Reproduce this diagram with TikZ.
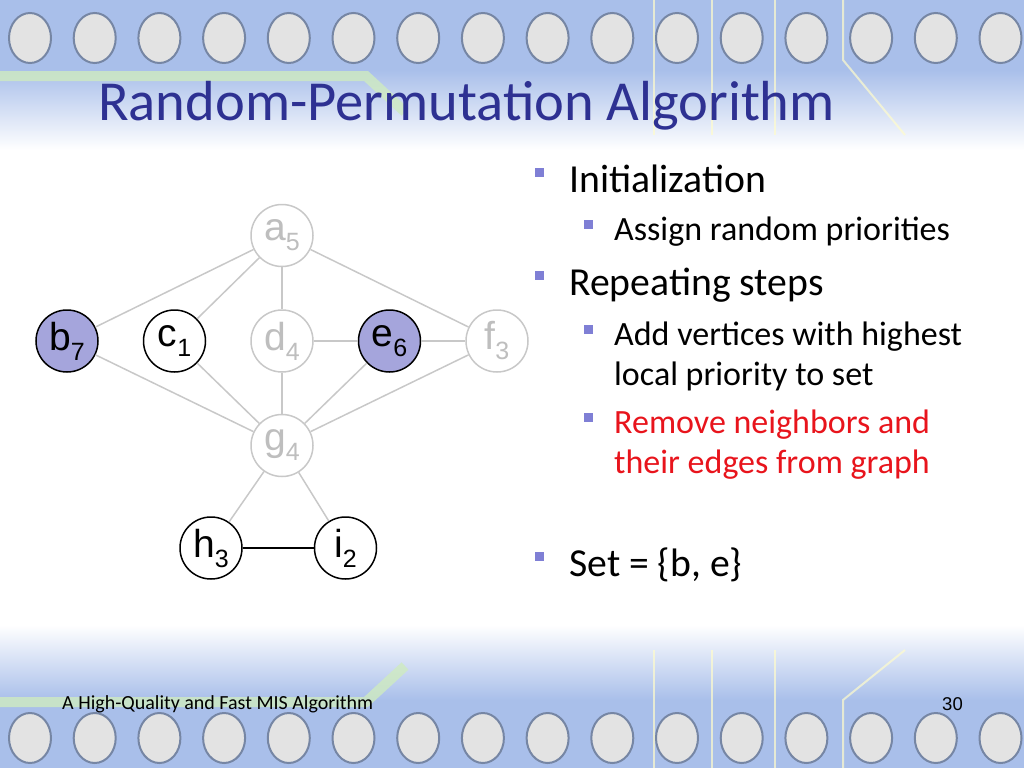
\documentclass[tikz,border=0pt]{standalone}
\usepackage{fontspec}
\setmainfont{Carlito}
\newfontfamily\graphfont{Liberation Sans}
\usetikzlibrary{positioning}
\definecolor{rptitle}{HTML}{2E3192}
\definecolor{rpbullet}{HTML}{7F7FD5}
\definecolor{rpset}{HTML}{A5A5DC}
\definecolor{rpgone}{HTML}{C8C8C8}
\definecolor{rpband}{HTML}{A9BFEA}
\definecolor{rptrace}{HTML}{CFEBC0}
\definecolor{rpred}{HTML}{E8141C}

\newcommand{\vlab}[2]{#1\raisebox{-10pt}{\fontsize{25}{25}\selectfont #2}}

\begin{document}
\begin{tikzpicture}[
  x=1pt, y=-1pt,
  node distance=44pt,
  vtx/.style={circle, line width=1.5pt, minimum size=62pt, inner sep=0pt,
              font=\graphfont\fontsize{39}{39}\selectfont},
  inset/.style={vtx, draw=black, fill=rpset},
  alive/.style={vtx, draw=black, fill=white},
  gone/.style={vtx, draw=rpgone, fill=white, text=rpgone!95!black},
  edge/.style={rpgone, line width=1.5pt},
  kept/.style={black, line width=1.5pt},
  sq/.style={fill=rpbullet, minimum size=9pt, inner sep=0pt},
  lvone/.style={anchor=base west, inner sep=0pt, font=\fontsize{39.7}{40}\selectfont},
  lvtwo/.style={anchor=base west, inner sep=0pt, font=\fontsize{34}{40}\selectfont},
  pad/.style={draw=rpband!70!black, fill=gray!22!white, line width=2pt},
  trace/.style={yellow!20!white, line width=2pt, opacity=.7},
]
\useasboundingbox (0,0) rectangle (1024,768);

%% ---- Background bands ----
\fill[rpband] (0,0) rectangle (1024,70);
\shade[top color=rpband, bottom color=white] (0,70) rectangle (1024,150);
\shade[top color=white, bottom color=rpband] (0,625) rectangle (1024,700);
\fill[rpband] (0,700) rectangle (1024,768);
\draw[rptrace, line width=10pt, opacity=.8] (0,76) -- (366,76) -- (405,112);
\draw[rptrace, line width=10pt, opacity=.8] (0,702) -- (366,702) -- (405,666);
\foreach \tx in {654,712,775}{
  \draw[trace] (\tx,0) -- (\tx,135);
  \draw[trace] (\tx,650) -- (\tx,768);
}
\draw[trace] (843,0) -- (843,60) -- (905,135);
\draw[trace] (843,768) -- (843,700) -- (905,650);
\foreach \k in {0,...,15}{
  \draw[pad] (30+64.7*\k,38) ellipse (21 and 25);
  \draw[pad] (30+64.7*\k,738) ellipse (21 and 25);
}

%% ---- Title ----
\node[anchor=base west, inner sep=0pt, text=rptitle,
      font=\fontsize{56.5}{56.5}\selectfont] (title) at (98,120) {Random-Permutation Algorithm};

%% ---- Graph ----
\node[inset] (b) at (67,341) {\vlab{b}{7}};
\node[alive, right=of b] (c) {\vlab{c}{1}};
\node[gone,  right=of c] (d) {\vlab{d}{4}};
\node[inset, right=of d] (e) {\vlab{e}{6}};
\node[gone,  right=of e] (f) {\vlab{f}{3}};
\node[gone,  above=42pt of d] (a) {\vlab{a}{5}};
\node[gone,  below=41pt of d] (g) {\vlab{g}{4}};
\node[alive] (h) at (211,548) {\vlab{h}{3}};
\node[alive, right=71pt of h] (i) {\vlab{i}{2}};

\foreach \u/\v in {a/b,a/c,a/d,a/f,b/g,c/g,d/g,e/g,f/g,d/e,e/f,g/h,g/i}
  \draw[edge] (\u) -- (\v);
\draw[kept] (h) -- (i);

%% ---- Bullet list ----
\node[sq] (s1) at (539,172.5) {};
\node[lvone] (t1) at (569,192.7) {Initialization};
\node[sq] (s2) at (588.5,224.5) {};
\node[lvtwo] (t2) at (614,240.7) {Assign random priorities};
\node[sq] (s3) at (539,275) {};
\node[lvone] (t3) at (569,295) {Repeating steps};
\node[sq] (s4) at (588.5,329) {};
\node[lvtwo] (t4) at (614,345) {Add vertices with highest};
\node[lvtwo] (t4b) at (614,385) {local priority to set};
\node[sq] (s5) at (588.5,417) {};
\node[lvtwo, text=rpred] (t5) at (614,433.3) {Remove neighbors and};
\node[lvtwo, text=rpred] (t5b) at (614,473.3) {their edges from graph};
\node[sq] (s6) at (539,556) {};
\node[lvone] (t6) at (569,576) {Set = \{b, e\}};

%% ---- Footer ----
\node[anchor=base west, inner sep=0pt, font=\fontsize{20}{20}\selectfont] (foot) at (62,709)
  {A High-Quality and Fast MIS Algorithm};
\node[anchor=base east, inner sep=0pt, font=\graphfont\fontsize{18.5}{18.5}\selectfont] (page) at (963,710) {30};

\end{tikzpicture}
\end{document}
